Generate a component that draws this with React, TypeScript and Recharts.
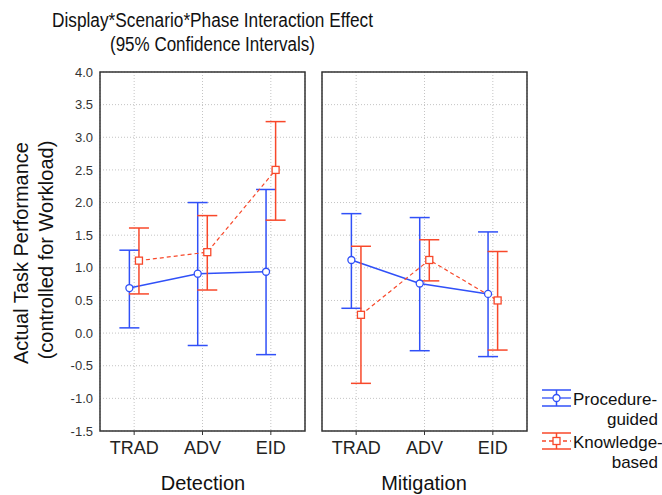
import React from 'react'
import { LineChart, Line, XAxis, YAxis, CartesianGrid, ErrorBar, ReferenceArea } from 'recharts'

const categories = ['TRAD', 'ADV', 'EID']
const phases = ['Detection', 'Mitigation']
const seriesNames = ['Procedure-guided', 'Knowledge-based']
const yTicks = [-1.5, -1.0, -0.5, 0, 0.5, 1.0, 1.5, 2.0, 2.5, 3.0, 3.5, 4.0]

// Detection phase
const detProcMean = [0.69, 0.91, 0.94]
const detProcLow = [0.08, -0.19, -0.33]
const detProcHigh = [1.27, 2.0, 2.2]
const detKnowMean = [1.11, 1.24, 2.5]
const detKnowLow = [0.6, 0.66, 1.73]
const detKnowHigh = [1.61, 1.8, 3.24]

// Mitigation phase
const mitProcMean = [1.12, 0.76, 0.6]
const mitProcLow = [0.38, -0.27, -0.36]
const mitProcHigh = [1.83, 1.77, 1.55]
const mitKnowMean = [0.28, 1.12, 0.5]
const mitKnowLow = [-0.77, 0.8, -0.26]
const mitKnowHigh = [1.33, 1.43, 1.25]

const BLUE = '#3050f8'
const RED = '#f8482a'
const FONT = '"Liberation Sans", Arial, sans-serif'

// small horizontal jitter so the two series don't overlap
const makeRows = (mean: number[], low: number[], high: number[], offset: number) =>
  mean.map((m, i) => ({ x: i + offset, y: m, err: [m - low[i], high[i] - m] }))

const SquareDot = (props: any) => {
  const { cx, cy, index } = props
  if (cx == null || cy == null) return null
  return <rect key={index} x={cx - 3.5} y={cy - 3.5} width={7} height={7} fill="#fff" stroke={RED} strokeWidth={1.3} />
}

function Panel({ proc, know, showY, width, left }: any) {
  return (
    <LineChart width={width} height={495} margin={{ top: 72, right: showY ? 5 : 3, bottom: 30, left }}>
      <CartesianGrid stroke="#c4c4c4" strokeDasharray="1 2" />
      <XAxis
        dataKey="x"
        type="number"
        domain={[-0.5, 2.5]}
        ticks={[0, 1, 2]}
        tickFormatter={(v: number) => categories[v] ?? ''}
        height={34}
        axisLine={false}
        tickSize={4}
        tickMargin={6}
        tickLine={{ stroke: '#333' }}
        tick={{ fontSize: 18, fill: '#222', fontFamily: FONT }}
      />
      <XAxis xAxisId="top" orientation="top" type="number" dataKey="x" domain={[-0.5, 2.5]} ticks={[0, 1, 2]}
        mirror height={0} axisLine={false} tickSize={5} tickLine={{ stroke: '#333' }} tickFormatter={() => ''} />
      <YAxis
        type="number"
        domain={[-1.5, 4]}
        ticks={yTicks}
        hide={!showY}
        width={60}
        axisLine={false}
        tickLine={false}
        tickSize={0}
        tickMargin={7}
        tickFormatter={(v: number) => v.toFixed(1)}
        tick={{ fontSize: 13, fill: '#333', fontFamily: FONT }}
      />
      <YAxis yAxisId="tl" type="number" domain={[-1.5, 4]} ticks={yTicks} mirror width={0} axisLine={false}
        tickSize={5} tickLine={{ stroke: '#333' }} tickFormatter={() => ''} />
      <YAxis yAxisId="tr" orientation="right" type="number" domain={[-1.5, 4]} ticks={yTicks} mirror width={0}
        axisLine={false} tickSize={5} tickLine={{ stroke: '#333' }} tickFormatter={() => ''} />
      <ReferenceArea x1={-0.5} x2={2.5} y1={-1.5} y2={4} fill="none" stroke="#333" strokeWidth={1.5} />
      <Line data={proc} dataKey="y" stroke={BLUE} strokeWidth={1.5} isAnimationActive={false}
        dot={{ r: 3.5, fill: '#fff', stroke: BLUE, strokeWidth: 1.3 }}>
        <ErrorBar dataKey="err" width={10} stroke={BLUE} strokeWidth={1.5} direction="y" />
      </Line>
      <Line data={know} dataKey="y" stroke={RED} strokeWidth={1.2} strokeDasharray="4 3" isAnimationActive={false}
        dot={<SquareDot />}>
        <ErrorBar dataKey="err" width={10} stroke={RED} strokeWidth={1.5} direction="y" />
      </Line>
    </LineChart>
  )
}

function LegendIcon({ x, y, color, square }: any) {
  return (
    <g>
      <line x1={x} x2={x + 29} y1={y - 8} y2={y - 8} stroke={color} strokeWidth={1.5} />
      <line x1={x} x2={x + 29} y1={y + 8} y2={y + 8} stroke={color} strokeWidth={1.5} />
      <line x1={x + 14.5} x2={x + 14.5} y1={y - 8} y2={y + 8} stroke={color} strokeWidth={1.5} />
      <line x1={x} x2={x + 29} y1={y} y2={y} stroke={color} strokeWidth={1.3} strokeDasharray={square ? '4 3' : undefined} />
      {square
        ? <rect x={x + 11} y={y - 3.5} width={7} height={7} fill="#fff" stroke={color} strokeWidth={1.3} />
        : <circle cx={x + 14.5} cy={y} r={3.5} fill="#fff" stroke={color} strokeWidth={1.3} />}
    </g>
  )
}

export default function App() {
  const detProc = makeRows(detProcMean, detProcLow, detProcHigh, -0.07)
  const detKnow = makeRows(detKnowMean, detKnowLow, detKnowHigh, 0.07)
  const mitProc = makeRows(mitProcMean, mitProcLow, mitProcHigh, -0.07)
  const mitKnow = makeRows(mitKnowMean, mitKnowLow, mitKnowHigh, 0.07)

  return (
    <div style={{ position: 'absolute', left: 0, top: 0, width: 662, height: 495, background: '#fff', fontFamily: FONT }}>
      <div style={{ position: 'absolute', left: 0, top: 0 }}>
        <Panel proc={detProc} know={detKnow} showY width={310} left={40} />
      </div>
      <div style={{ position: 'absolute', left: 310, top: 0 }}>
        <Panel proc={mitProc} know={mitKnow} showY={false} width={220} left={12} />
      </div>
      <svg width={662} height={495} style={{ position: 'absolute', left: 0, top: 0, pointerEvents: 'none' }}>
        <g fontFamily={FONT} fill="#111">
          <text x={52} y={27} fontSize={19.5} textLength={321} lengthAdjust="spacingAndGlyphs">Display*Scenario*Phase Interaction Effect</text>
          <text x={110} y={51} fontSize={19.5} textLength={205} lengthAdjust="spacingAndGlyphs">(95% Confidence Intervals)</text>
          <text transform="translate(28,253) rotate(-90)" fontSize={20} textAnchor="middle">Actual Task Performance</text>
          <text transform="translate(53,250) rotate(-90)" fontSize={20} textAnchor="middle">(controlled for Workload)</text>
          <text x={203} y={490} fontSize={20} textAnchor="middle">{phases[0]}</text>
          <text x={424} y={490} fontSize={20} textAnchor="middle">{phases[1]}</text>
          {seriesNames.map((name, i) => {
            const cut = name.indexOf('-') + 1
            const y = 398 + i * 43
            return (
              <g key={name}>
                <LegendIcon x={542} y={y} color={i === 0 ? BLUE : RED} square={i === 1} />
                <text x={573} y={y + 7} fontSize={17} >{name.slice(0, cut)}</text>
                <text x={658} y={y + 27} fontSize={17} textAnchor="end">{name.slice(cut)}</text>
              </g>
            )
          })}
        </g>
      </svg>
    </div>
  )
}
